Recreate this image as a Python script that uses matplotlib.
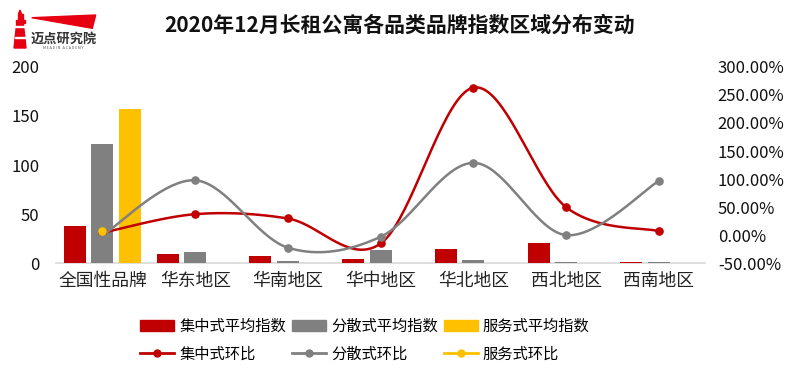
import numpy as np
import matplotlib
matplotlib.use('Agg')
import matplotlib.pyplot as plt
from matplotlib.patches import Polygon, Rectangle
from matplotlib.lines import Line2D

plt.rcParams['font.family'] = ['Noto Sans CJK SC', 'DejaVu Sans']

categories = ['全国性品牌', '华东地区', '华南地区', '华中地区', '华北地区', '西北地区', '西南地区']
jz_index = [38.2, 9.5, 7.4, 4.0, 14.2, 21.0, 1.6]      # 集中式平均指数
fs_index = [121.7, 11.5, 2.0, 13.2, 3.0, 1.3, 1.8]     # 分散式平均指数
fw_index = [157.0]                                     # 服务式平均指数 (only national)
jz_mom = [4.5, 37.7, 30.0, -14.5, 263.0, 50.0, 7.5]    # 集中式环比 (%)
fs_mom = [0.0, 98.0, -22.0, -2.6, 129.0, 0.4, 97.0]    # 分散式环比 (%)
fw_mom = [7.5]                                         # 服务式环比 (%)

RED = '#C00000'
GRAY = '#808080'
YEL = '#FFC000'


def smooth(xs, ys, n=40):
    # excel-like smoothed line (catmull-rom as cubic bezier)
    p = np.column_stack([xs, ys]).astype(float)
    if len(p) < 2:
        return p[:, 0], p[:, 1]
    out = []
    t = np.linspace(0, 1, n)[:, None]
    for i in range(len(p) - 1):
        p0 = p[max(i - 1, 0)]
        p1 = p[i]
        p2 = p[i + 1]
        p3 = p[min(i + 2, len(p) - 1)]
        c1 = p1 + (p2 - p0) / 6.0
        c2 = p2 - (p3 - p1) / 6.0
        seg = ((1 - t) ** 3) * p1 + 3 * ((1 - t) ** 2) * t * c1 + 3 * (1 - t) * t ** 2 * c2 + t ** 3 * p2
        out.append(seg if i == 0 else seg[1:])
    out = np.vstack(out)
    return out[:, 0], out[:, 1]


fig = plt.figure(figsize=(8, 3.84), dpi=100)
ax = fig.add_axes([0.0701, 0.314, 0.8115, 0.512])
ax2 = ax.twinx()

x = np.arange(len(categories))
w = 0.237
off = 0.296
ax.bar(x - off, jz_index, w, color=RED, zorder=2)
ax.bar(x, fs_index, w, color=GRAY, zorder=2)
ax.bar(x[:len(fw_index)] + off, fw_index, w, color=YEL, zorder=2)

ax.set_xlim(-0.5, len(categories) - 0.5)
ax.set_ylim(0, 200)
ax.set_yticks([0, 50, 100, 150, 200])
ax.set_xticks(x)
ax.set_xticklabels(categories, fontsize=12.8, color='#222222')
ax.tick_params(axis='x', length=0, pad=6)
ax.tick_params(axis='y', length=0, pad=12, labelsize=12, labelcolor='#111111')

for a in (ax, ax2):
    for s in ['top', 'left', 'right', 'bottom']:
        a.spines[s].set_visible(False)
ax.axhline(0, color='#D9D9D9', linewidth=1.2, zorder=1, clip_on=False)

for vals, col in [(jz_mom, RED), (fs_mom, GRAY), (fw_mom, YEL)]:
    xs = x[:len(vals)]
    sx, sy = smooth(xs, vals)
    ax2.plot(sx, sy, color=col, linewidth=1.8, solid_capstyle='round', zorder=3)
    ax2.plot(xs, vals, 'o', color=col, markersize=5.2, zorder=4)

ax2.set_ylim(-50, 300)
ax2.set_yticks(np.arange(-50, 301, 50))
ax2.set_yticklabels(['%.2f%%' % v for v in np.arange(-50, 301, 50)])
ax2.tick_params(axis='y', length=0, pad=9, labelsize=12, labelcolor='#111111')
ax.set_zorder(ax2.get_zorder() - 1)
ax.patch.set_visible(False)
ax2.set_xlim(ax.get_xlim())

fig.text(0.5, 0.935, '2020年12月长租公寓各品类品牌指数区域分布变动', ha='center', va='center',
         fontsize=15, fontweight='bold', color='#111111')

# legend
handles = [
    Rectangle((0, 0), 1, 1, color=RED), Line2D([], [], color=RED, lw=2, marker='o', ms=5),
    Rectangle((0, 0), 1, 1, color=GRAY), Line2D([], [], color=GRAY, lw=2, marker='o', ms=5),
    Rectangle((0, 0), 1, 1, color=YEL), Line2D([], [], color=YEL, lw=2, marker='o', ms=5),
]
labels = ['集中式平均指数', '集中式环比', '分散式平均指数', '分散式环比', '服务式平均指数', '服务式环比']
fig.legend(handles, labels, ncol=3, loc='center', bbox_to_anchor=(365 / 800, 1 - 340.5 / 384),
           frameon=False, fontsize=11, handlelength=2.2, handletextpad=0.35,
           columnspacing=0.4, labelspacing=0.7, handleheight=0.75)

# logo
lg = fig.add_axes([0, 0, 1, 1])
lg.set_xlim(0, 800)
lg.set_ylim(384, 0)
lg.axis('off')
lg.add_patch(Polygon([(20, 10), (18.5, 14), (21.5, 14)], color='#E60012'))
lg.add_patch(Rectangle((17.5, 14), 5, 6, color='#E60012'))
lg.add_patch(Rectangle((15.5, 20), 9, 2.5, color='#E60012'))
lg.add_patch(Polygon([(16.8, 22.5), (23.2, 22.5), (26, 48), (14, 48)], color='#E60012'))
lg.add_patch(Rectangle((15, 26), 10, 1.4, color='white'))
lg.add_patch(Rectangle((14.5, 37), 11, 1.4, color='white'))
lg.add_patch(Polygon([(31.7, 17.7), (95.7, 15), (92.3, 28.3)], color='#E60012'))
lg.text(63.5, 38.5, '迈点研究院', ha='center', va='center', fontsize=9.5, fontweight='bold', color='#333333')
lg.text(63.5, 48, 'M E A D I N   A C A D E M Y', ha='center', va='center', fontsize=2.6, color='#555555')

fig.savefig('out.png', dpi=100)
